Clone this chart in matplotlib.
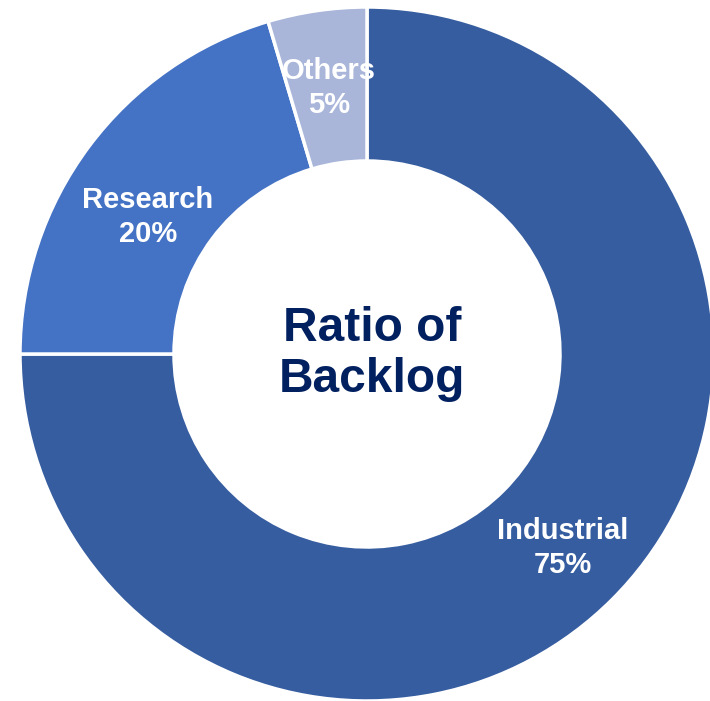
import matplotlib
matplotlib.use("Agg")
import matplotlib.pyplot as plt

categories = ["Industrial", "Research", "Others"]
values = [75, 20.4, 4.6]
pct_labels = ["75%", "20%", "5%"]
colors = ["#365DA0", "#4472C4", "#A9B6DA"]
center_title = "Ratio of\nBacklog"

plt.rcParams['font.family'] = ['Liberation Sans', 'DejaVu Sans']

fig = plt.figure(figsize=(7.10, 7.01), dpi=100)
ax = fig.add_axes([0, 0, 1, 1])

wedges, _ = ax.pie(values, colors=colors, startangle=90, counterclock=False,
                   center=(367, 347), radius=347, frame=True,
                   wedgeprops=dict(width=154, edgecolor='white', linewidth=2.5))
ax.set_xlim(0, 710)
ax.set_ylim(0, 701)
ax.set_aspect('equal')
ax.axis('off')

label_pos = [(563, 153), (148, 484), (329, 613)]
for c, p, (x, y) in zip(categories, pct_labels, label_pos):
    ax.text(x, y, f"{c}\n{p}", color='white', fontsize=21, fontweight='bold',
            ha='center', va='center', linespacing=1.25)

ax.text(372, 347, center_title, color='#002060', fontsize=34.5, fontweight='bold',
        ha='center', va='center', linespacing=1.17)

fig.savefig("out.png", dpi=100)
